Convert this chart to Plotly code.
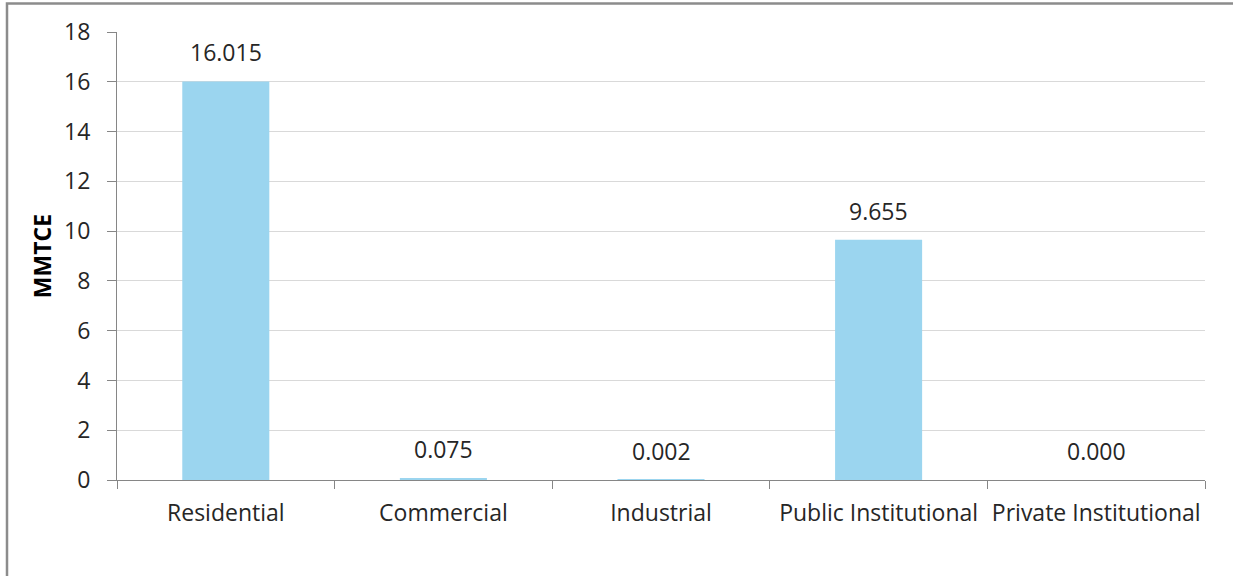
import plotly.graph_objects as go

categories = ["Residential", "Commercial", "Industrial", "Public Institutional", "Private Institutional"]
values = [16.015, 0.075, 0.002, 9.655, 0.000]
value_labels = ["16.015", "0.075", "0.002", "9.655", "0.000"]
y_ticks = [0, 2, 4, 6, 8, 10, 12, 14, 16, 18]

FONT = "'Open Sans', 'Liberation Sans', sans-serif"
TXT = "#262626"

fig = go.Figure()
fig.add_trace(go.Bar(
    x=categories, y=values,
    marker=dict(color="#9BD5EF", line=dict(width=0)),
    width=0.4,
    hoverinfo="skip",
))

for c, v, t in zip(categories, values, value_labels):
    fig.add_annotation(x=c, y=v, text=t, showarrow=False, yanchor="bottom",
                       yshift=11, font=dict(family=FONT, size=23, color=TXT))

fig.update_layout(
    width=1233, height=576,
    margin=dict(l=117, r=28, t=32, b=96, autoexpand=False),
    paper_bgcolor="white", plot_bgcolor="white",
    showlegend=False,
    bargap=0.6,
    font=dict(family=FONT, size=23, color=TXT),
    xaxis=dict(
        showline=True, linecolor="#868686", linewidth=1,
        ticks="outside", tickson="boundaries", ticklen=8, tickcolor="#868686",
        showgrid=False, tickfont=dict(family=FONT, size=23, color=TXT),
        tickangle=0, automargin=False,
        ticklabelstandoff=12,
    ),
    yaxis=dict(
        range=[0, 18], tickvals=y_ticks,
        showline=True, linecolor="#868686", linewidth=1,
        ticks="outside", ticklen=9, tickcolor="#868686",
        showgrid=True, gridcolor="#D9D9D9", gridwidth=1,
        zeroline=False, automargin=False,
        tickfont=dict(family=FONT, size=23, color=TXT),
        ticklabelstandoff=12,
        title=dict(text="<b>MMTCE</b>", font=dict(family=FONT, size=23, color="black"), standoff=6),
    ),
    shapes=[dict(type="rect", xref="paper", yref="paper",
                 x0=(7 - 117) / 1088, x1=1.2, y0=-0.4, y1=(480 - 3.5) / 448,
                 line=dict(color="#8C8C8C", width=2.5), layer="below")],
)

fig.write_html("out.html")
